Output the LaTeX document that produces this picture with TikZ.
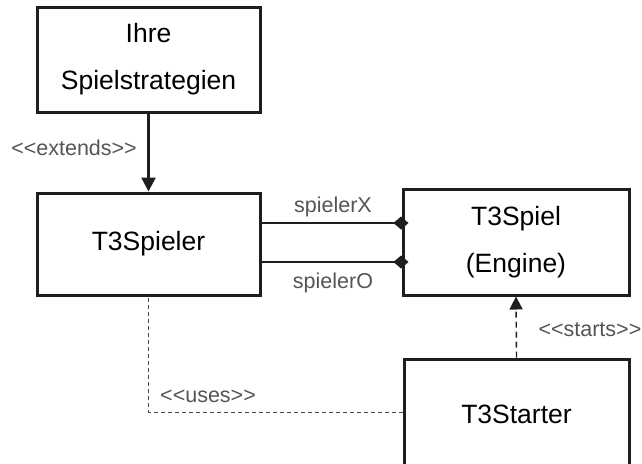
\documentclass[tikz,border=0pt]{standalone}
\usepackage{fontspec}
\setmainfont{Liberation Sans}[Ligatures=TeXOff]
\usetikzlibrary{arrows.meta}
\definecolor{lncol}{HTML}{1E1E1E}
\definecolor{lblcol}{HTML}{555555}
\tikzset{
  classbox/.style={draw=lncol, line width=3pt, rectangle, inner sep=0pt, font=\fontsize{26.5}{47}\selectfont, align=center, text=black},
  lbl/.style={font=\fontsize{21.5}{22}\selectfont, text=lblcol, inner sep=0pt},
  assoc/.style={draw=lncol, line width=2.6pt, -{Diamond[length=15pt,width=13pt]}, shorten >=-7pt},
  extarrow/.style={draw=lncol, line width=2.6pt, -{Triangle[length=14pt,width=14pt]}},
  startarrow/.style={draw=lncol, line width=1.4pt, dash pattern=on 6pt off 4pt, -{Triangle[length=13pt,width=13pt]}},
  usesline/.style={draw=lncol!80, line width=1pt, dash pattern=on 4pt off 3pt}
}
\begin{document}
\begin{tikzpicture}[x=1pt,y=-1pt]
\useasboundingbox (0,0) rectangle (642,463);
\clip (0,0) rectangle (642,463);
\node[classbox, minimum width=223pt, minimum height=105pt] (strat) at (148.5,59.5) {Ihre\\Spielstrategien};
\node[classbox, minimum width=223pt, minimum height=102pt] (spieler) at (148.5,244) {T3Spieler};
\node[classbox, minimum width=226pt, minimum height=106pt] (spiel) at (516,242) {T3Spiel\\(Engine)};
\node[classbox, minimum width=225pt, minimum height=161pt] (starter) at (516.5,439.5) {};
\node[font=\fontsize{26.5}{43}\selectfont, inner sep=0pt] (startertxt) at (516.5,414) {T3Starter};
\draw[extarrow] (strat.south) -- (spieler.north);
\draw[assoc] (spieler.east |- 0,223) -- (spiel.west |- 0,223);
\draw[assoc] (spieler.east |- 0,262) -- (spiel.west |- 0,262);
\draw[startarrow] (starter.north) -- (spiel.south);
\draw[usesline] (starter.west |- 0,412) -| (spieler.south);
\node[lbl, anchor=east] (extl) at (137,148) {<<extends>>};
\node[lbl] (xl) at (333,207) {spielerX};
\node[lbl] (ol) at (333,283) {spielerO};
\node[lbl, anchor=west] (usesl) at (160,396) {<<uses>>};
\node[lbl, anchor=east] (startsl) at (641.5,330) {<<starts>>};
\end{tikzpicture}
\end{document}
